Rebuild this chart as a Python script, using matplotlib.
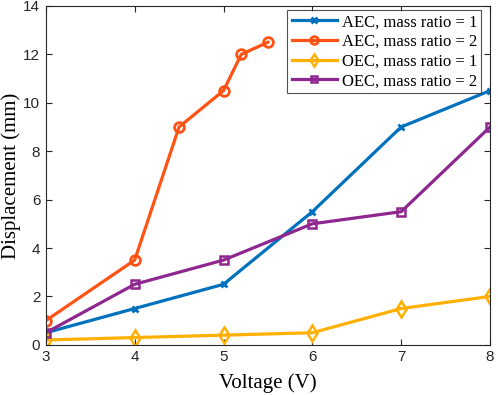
import matplotlib
matplotlib.use("Agg")
import matplotlib.pyplot as plt

# data
volt = [3, 4, 5, 6, 7, 8]
aec_r1 = [0.5, 1.5, 2.5, 5.5, 9.0, 10.5]
volt_aec_r2 = [3, 4, 4.5, 5, 5.2, 5.5]
aec_r2 = [1.0, 3.5, 9.0, 10.5, 12.0, 12.5]
oec_r1 = [0.2, 0.3, 0.4, 0.5, 1.5, 2.0]
oec_r2 = [0.5, 2.5, 3.5, 5.0, 5.5, 9.0]

labels = ["AEC, mass ratio = 1", "AEC, mass ratio = 2",
          "OEC, mass ratio = 1", "OEC, mass ratio = 2"]
colors = ["#0072BD", "#FF5213", "#FFB000", "#8E278F"]

fig = plt.figure(figsize=(4.98, 3.95), dpi=100)
ax = fig.add_axes([0.092, 0.127, 0.892, 0.858])

lw = 2.3
ax.plot(volt, aec_r1, color=colors[0], lw=lw, marker="x", ms=5, mew=2.0, label=labels[0])
ax.plot(volt_aec_r2, aec_r2, color=colors[1], lw=lw, marker="o", ms=7, mew=2.0,
        mfc="none", label=labels[1])
ax.plot(volt, oec_r1, color=colors[2], lw=lw, marker="d", ms=8, mew=1.8,
        mfc="none", label=labels[2])
ax.plot(volt, oec_r2, color=colors[3], lw=lw, marker="s", ms=6, mew=1.8,
        mfc="none", label=labels[3])

ax.set_xlim(3, 8)
ax.set_ylim(0, 14)
ax.set_xticks(range(3, 9))
ax.set_yticks(range(0, 15, 2))
ax.tick_params(direction="in", top=True, right=True, length=4, width=0.8,
               colors="#262626", labelsize=11, pad=4)
for lab in ax.get_xticklabels() + ax.get_yticklabels():
    lab.set_family("Liberation Sans")
for s in ax.spines.values():
    s.set_color("#262626")
    s.set_linewidth(0.8)

ax.set_xlabel("Voltage (V)", family="Liberation Serif", fontsize=15)
ax.set_ylabel("Displacement (mm)", family="Liberation Serif", fontsize=15)
ax.xaxis.set_label_coords(0.5, -0.085)
ax.yaxis.set_label_coords(-0.055, 0.5)

leg = ax.legend(loc="upper right", bbox_to_anchor=(0.98, 0.988),
                prop={"family": "Liberation Serif", "size": 12},
                frameon=True, fancybox=False, edgecolor="#262626",
                borderpad=0.25, labelspacing=0.22, handlelength=2.7,
                handletextpad=0.3, borderaxespad=0, markerscale=0.8)
leg.get_frame().set_linewidth(0.8)

fig.savefig("out.png", dpi=100)
